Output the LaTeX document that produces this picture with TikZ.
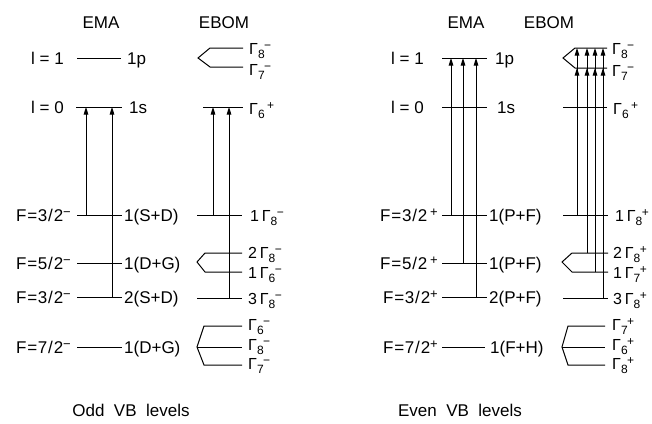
\documentclass[tikz,border=0pt]{standalone}
\usepackage{fontspec}
\setmainfont{Liberation Sans}
\usetikzlibrary{arrows.meta}
\newcommand{\Sp}[1]{\raisebox{5pt}{\fontsize{13}{13}\selectfont #1}}
\newcommand{\Gm}[2]{Γ\raisebox{-4pt}{\fontsize{12}{12}\selectfont #1}\kern-0.5pt\raisebox{4.5pt}{\fontsize{12}{12}\selectfont #2}}
\newcommand{\Fq}[2]{F\kern0.8pt=\kern0.8pt#1\kern0.8pt/\kern0.8pt#2}
\newcommand{\levline}[4]{\coordinate (#1a) at (#2,#4); \coordinate (#1b) at (#3,#4); \draw[lv] (#1a) -- (#1b);}
\newcommand{\transarrow}[4]{\coordinate (#1s) at (#2,#3); \coordinate (#1e) at (#2,#4); \draw[trans] (#1s) -- (#1e);}
\begin{document}
\begin{tikzpicture}[x=1pt,y=-1pt,
  lv/.style={line width=1pt},
  trans/.style={line width=1pt,-{Triangle[length=7.5pt,width=4.5pt]}},
  lab/.style={anchor=base west,inner sep=0pt,font=\fontsize{17}{20}\selectfont},
  glab/.style={anchor=base west,inner sep=0pt,font=\fontsize{16}{18}\selectfont},
  labr/.style={anchor=base east,inner sep=0pt,font=\fontsize{17}{20}\selectfont},
  ttl/.style={anchor=base,inner sep=0pt,font=\fontsize{17}{20}\selectfont}]
\useasboundingbox (0,0) rectangle (652,423);
\fill[white] (0,0) rectangle (652,423);

% ===== Left panel: Odd VB levels =====
\node[ttl] (tEMAL) at (101,28) {EMA};
\node[ttl] (tEBOML) at (224,28) {EBOM};

% EMA levels
\levline{Lp}{77}{121}{58}
\node[labr] (LpL) at (64,64) {l = 1};
\node[lab] (LpR) at (127,64) {1p};
\levline{Ls}{76}{122}{107}
\node[labr] (LsL) at (64,113) {l = 0};
\node[lab] (LsR) at (129,113) {1s};
\levline{LFa}{77}{122}{215}
\node[labr] (LFaL) at (71,221) {\Fq{3}{2}\Sp{−}};
\node[lab] (LFaR) at (124,221) {1(S+D)};
\levline{LFb}{77}{122}{263}
\node[labr] (LFbL) at (71,269) {\Fq{5}{2}\Sp{−}};
\node[lab] (LFbR) at (124,269) {1(D+G)};
\levline{LFc}{77}{122}{297}
\node[labr] (LFcL) at (71,303) {\Fq{3}{2}\Sp{−}};
\node[lab] (LFcR) at (124,303) {2(S+D)};
\levline{LFd}{77}{122}{347}
\node[labr] (LFdL) at (71,353) {\Fq{7}{2}\Sp{−}};
\node[lab] (LFdR) at (124,353) {1(D+G)};

\transarrow{LA1}{86}{215}{107}
\transarrow{LA2}{112}{297}{107}

% EBOM levels
\coordinate (LB8a) at (210,48); \coordinate (LB8b) at (243,48);
\coordinate (LBx) at (198,58);
\coordinate (LB7a) at (210,67); \coordinate (LB7b) at (243,67);
\draw[lv] (LB8b) -- (LB8a) -- (LBx) -- (LB7a) -- (LB7b);
\node[glab] (LB8l) at (249,54) {\Gm{8}{−}};
\node[glab] (LB7l) at (249,75) {\Gm{7}{−}};
\levline{LB6}{203}{243}{107}
\node[glab] (LB6l) at (249,114) {\Gm{6}{\kern3pt+}};
\levline{LG1}{197}{242}{215}
\node[glab] (LG1l) at (250,221) {1\,\Gm{8}{−}};
\coordinate (LG2a) at (205,253); \coordinate (LG2b) at (242,253);
\coordinate (LG2x) at (197,262);
\coordinate (LG3a) at (205,272); \coordinate (LG3b) at (242,272);
\draw[lv] (LG2b) -- (LG2a) -- (LG2x) -- (LG3a) -- (LG3b);
\node[glab] (LG2l) at (248,258) {2\,\Gm{8}{−}};
\node[glab] (LG3l) at (248,278) {1\,\Gm{6}{−}};
\levline{LG4}{197}{242}{298}
\node[glab] (LG4l) at (248,304) {3\,\Gm{8}{−}};

\transarrow{LA3}{213}{215}{107}
\transarrow{LA4}{229}{298}{107}

\coordinate (LH1a) at (204,326); \coordinate (LH1b) at (242,326);
\coordinate (LH2a) at (197,347); \coordinate (LH2b) at (242,347);
\coordinate (LH3a) at (204,365); \coordinate (LH3b) at (242,365);
\draw[lv] (LH1b) -- (LH1a) -- (LH2a) -- (LH3a) -- (LH3b);
\draw[lv] (LH2a) -- (LH2b);
\node[glab] (LH1l) at (248,330) {\Gm{6}{−}};
\node[glab] (LH2l) at (248,350) {\Gm{8}{−}};
\node[glab] (LH3l) at (248,369) {\Gm{7}{−}};

\node[ttl] (capL) at (131,416) {Odd\ \ VB\ \ levels};

% ===== Right panel: Even VB levels =====
\node[ttl] (tEMAR) at (466,28) {EMA};
\node[ttl] (tEBOMR) at (549,28) {EBOM};

\levline{Rp}{442}{487}{58}
\node[labr] (RpL) at (424,64) {l = 1};
\node[lab] (RpR) at (495,64) {1p};
\levline{Rs}{442}{487}{107}
\node[labr] (RsL) at (424,113) {l = 0};
\node[lab] (RsR) at (497,113) {1s};
\levline{RFa}{442}{487}{215}
\node[labr] (RFaL) at (438,221) {\Fq{3}{2}\,\Sp{+}};
\node[lab] (RFaR) at (489,221) {1(P+F)};
\levline{RFb}{442}{487}{263}
\node[labr] (RFbL) at (438,269) {\Fq{5}{2}\,\Sp{+}};
\node[lab] (RFbR) at (489,269) {1(P+F)};
\levline{RFc}{442}{487}{297}
\node[labr] (RFcL) at (438,303) {\Fq{3}{2}\Sp{+}};
\node[lab] (RFcR) at (489,303) {2(P+F)};
\levline{RFd}{442}{485}{347}
\node[labr] (RFdL) at (438,353) {\Fq{7}{2}\Sp{+}};
\node[lab] (RFdR) at (490,353) {1(F+H)};

\transarrow{RA1}{451}{215}{58}
\transarrow{RA2}{463}{263}{58}
\transarrow{RA3}{476}{297}{58}

\coordinate (RB8a) at (575,48); \coordinate (RB8b) at (607,48);
\coordinate (RBx) at (563,58);
\coordinate (RB7a) at (575,68); \coordinate (RB7b) at (607,68);
\draw[lv] (RB8b) -- (RB8a) -- (RBx) -- (RB7a) -- (RB7b);
\node[glab] (RB8l) at (612,54) {\Gm{8}{−}};
\node[glab] (RB7l) at (612,76) {\Gm{7}{−}};
\levline{RB6}{563}{607}{107}
\node[glab] (RB6l) at (613,114) {\Gm{6}{\kern3pt+}};
\levline{RG1}{563}{608}{215}
\node[glab] (RG1l) at (615,221) {1\,\Gm{8}{+}};
\coordinate (RG2a) at (572,253); \coordinate (RG2b) at (608,253);
\coordinate (RG2x) at (562,262);
\coordinate (RG3a) at (572,272); \coordinate (RG3b) at (608,272);
\draw[lv] (RG2b) -- (RG2a) -- (RG2x) -- (RG3a) -- (RG3b);
\node[glab] (RG2l) at (613,258) {2\,\Gm{8}{+}};
\node[glab] (RG3l) at (613,278) {1\,\Gm{7}{+}};
\levline{RG4}{563}{608}{298}
\node[glab] (RG4l) at (613,304) {3\,\Gm{8}{+}};

\foreach \n/\x/\y in {1/577/215, 2/587/253, 3/595/272, 4/603/298}{
  \coordinate (RC\n s) at (\x,\y);
  \coordinate (RC\n m) at (\x,68);
  \coordinate (RC\n e) at (\x,48);
  \draw[trans] (RC\n s) -- (RC\n m);
  \draw[trans] (RC\n s) -- (RC\n e);
}

\coordinate (RH1a) at (568,326); \coordinate (RH1b) at (605,326);
\coordinate (RH2a) at (562,347); \coordinate (RH2b) at (605,347);
\coordinate (RH3a) at (568,365); \coordinate (RH3b) at (605,365);
\draw[lv] (RH1b) -- (RH1a) -- (RH2a) -- (RH3a) -- (RH3b);
\draw[lv] (RH2a) -- (RH2b);
\node[glab] (RH1l) at (612,330) {\Gm{7}{+}};
\node[glab] (RH2l) at (612,350) {\Gm{6}{+}};
\node[glab] (RH3l) at (612,369) {\Gm{8}{+}};

\node[ttl] (capR) at (460,416) {Even\ \ VB\ \ levels};
\end{tikzpicture}
\end{document}
